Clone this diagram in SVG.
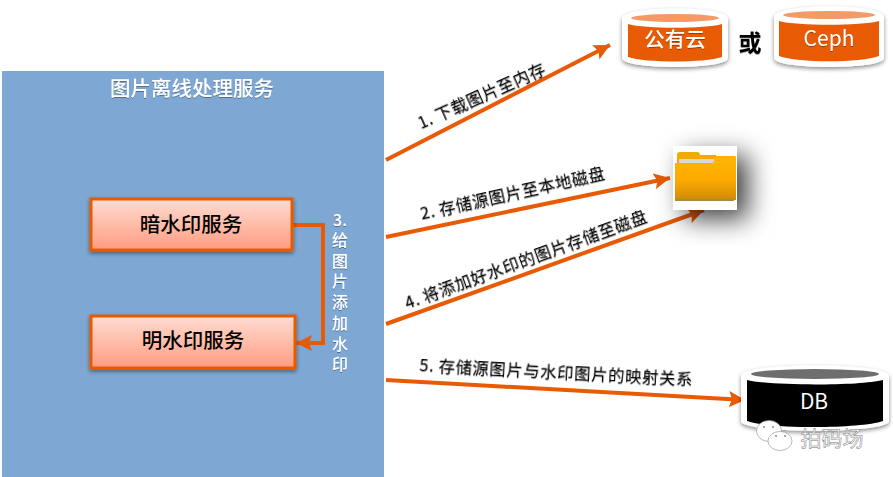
<svg xmlns="http://www.w3.org/2000/svg" width="893" height="477" viewBox="0 0 893 477">
<style>
text{font-family:"Noto Sans CJK SC","Noto Sans",sans-serif;text-anchor:middle}
.lbl{font-size:16.400px;fill:#000;filter:url(#ts);letter-spacing:.6px}
.w{fill:#fff;filter:url(#ts)}
.vert{writing-mode:vertical-rl;text-anchor:start;letter-spacing:4.7px}
.con{fill:none;stroke:#e85a04;stroke-width:4}
.box{stroke:#e85a04;stroke-width:3;fill:url(#bg);filter:url(#ds)}
</style>
<defs>
<linearGradient id="bg" x1="0" y1="0" x2="0" y2="1"><stop offset="0" stop-color="#ffdcd2"/><stop offset="1" stop-color="#ff9c80"/></linearGradient>
<linearGradient id="fg" x1="0" y1="0" x2="0" y2="1"><stop offset="0" stop-color="#ffb600"/><stop offset=".55" stop-color="#fdaa00"/><stop offset="1" stop-color="#d08a08"/></linearGradient>
<filter id="ds" x="-10%" y="-20%" width="120%" height="140%"><feDropShadow dx="0" dy="2" stdDeviation="2" flood-color="#000" flood-opacity=".45"/></filter>
<filter id="ts" x="-30%" y="-30%" width="160%" height="160%"><feDropShadow dx="0" dy="1" stdDeviation=".7" flood-color="#000" flood-opacity=".35"/></filter>
<filter id="fs" x="-80%" y="-80%" width="300%" height="300%"><feDropShadow dx="11" dy="9" stdDeviation="13" flood-color="#000" flood-opacity=".75"/></filter>
<marker id="ah" markerUnits="userSpaceOnUse" markerWidth="18" markerHeight="16" refX="16" refY="8" orient="auto"><path d="M0 0L16 8L0 16L3 8Z" fill="#e85a04"/></marker>
</defs>
<rect width="893" height="477" fill="#fff"/>
<g id="service-panel">
<rect x="2" y="71" width="382" height="406" fill="#7ea8d3"/>
<text x="192" y="96" class="w" font-size="20.500" font-weight="500">图片离线处理服务</text>
</g>
<g id="connectors">
<path class="con" d="M386 160L610 45" marker-end="url(#ah)"/>
<path class="con" d="M386 237L670 178" marker-end="url(#ah)"/>
<path class="con" d="M386 324L704 210" marker-end="url(#ah)"/>
<path class="con" d="M386 380L745 400" marker-end="url(#ah)"/>
<path class="con" d="M292 225H323V343H296" marker-end="url(#ah)"/>
</g>
<g id="labels">
<text class="lbl" transform="translate(484 101) rotate(-24)">1. 下载图片至内存</text>
<text class="lbl" transform="translate(514 199) rotate(-12.5)">2. 存储源图片至本地磁盘</text>
<text class="lbl" transform="translate(528 265) rotate(-20)">4. 将添加好水印的图片存储至磁盘</text>
<text class="lbl" transform="translate(556 378) rotate(3)">5. 存储源图片与水印图片的映射关系</text>
<text class="w" x="340" y="226" font-size="16" font-weight="500">3.</text>
<text class="w vert" x="340" y="232" font-size="16" font-weight="500">给图片添加水印</text>
</g>
<g id="dark-watermark">
<rect class="box" x="91" y="199" width="201" height="51"/>
<text x="191" y="232" font-size="20.500" font-weight="500">暗水印服务</text>
</g>
<g id="visible-watermark">
<rect class="box" x="91" y="316" width="204" height="52"/>
<text x="193" y="348" font-size="20.500" font-weight="500">明水印服务</text>
</g>
<g id="public-cloud">
<path d="M622 19C622 5 728 5 728 19V58C728 70 622 70 622 58Z" fill="#fff" filter="url(#ds)"/>
<ellipse cx="675" cy="18" rx="44" ry="4" fill="#f39a67"/>
<path d="M628 24C645 29 705 29 722 24V57C705 63 645 63 628 57Z" fill="#e85a04"/>
<text x="675" y="47" class="w" font-size="20.500" font-weight="500">公有云</text>
</g>
<g id="or-label"><text x="750" y="51" font-size="23" font-weight="700" filter="url(#ts)">或</text></g>
<g id="ceph">
<path d="M774 17C774 3 884 3 884 17V58C884 70 774 70 774 58Z" fill="#fff" filter="url(#ds)"/>
<ellipse cx="829" cy="15" rx="46" ry="4" fill="#f39a67"/>
<path d="M779 21C797 26 861 26 879 21V56C861 63 797 63 779 56Z" fill="#e85a04"/>
<text x="829" y="46" class="w" font-size="21" font-family="'Open Sans',sans-serif">Ceph</text>
</g>
<g id="folder">
<rect x="673" y="146" width="64" height="64" fill="#fff" filter="url(#fs)"/>
<path d="M677 164V155Q677 152 680 152H697Q700 152 700 155H716V164Z" fill="#f2a900"/>
<rect x="679" y="159" width="35" height="4" fill="#d8d8d8"/>
<path d="M675 163H713L716 156H735Q736 156 736 158V200H675Z" fill="url(#fg)"/>
<rect x="675" y="199" width="59" height="2" fill="#a58a50"/>
</g>
<g id="db">
<path d="M741 376C741 362 889 362 889 376V421C889 434 741 434 741 421Z" fill="#fff" filter="url(#ds)"/>
<ellipse cx="815" cy="374" rx="64" ry="5" fill="#6e6e6e"/>
<path d="M747 380C770 386 860 386 883 380V421C860 429 770 429 747 421Z" fill="#000"/>
<text x="814" y="409" font-size="21" fill="#fff" font-family="'Open Sans',sans-serif">DB</text>
</g>
<g id="watermark">
<ellipse cx="769" cy="431" rx="12.500" ry="10.500" fill="#fff" stroke="#9a9a9a" stroke-width=".7"/>
<ellipse cx="780" cy="441" rx="12" ry="9.500" fill="#fff" stroke="#9a9a9a" stroke-width=".7"/>
<circle cx="764" cy="427" r="1" fill="#888"/><circle cx="773" cy="427" r="1" fill="#888"/>
<circle cx="776" cy="436" r="1" fill="#888"/><circle cx="785" cy="436" r="1" fill="#888"/>
<text x="832" y="446" font-size="21" fill="#fff" stroke="#777" stroke-width=".5">拍码场</text>
</g>
</svg>
